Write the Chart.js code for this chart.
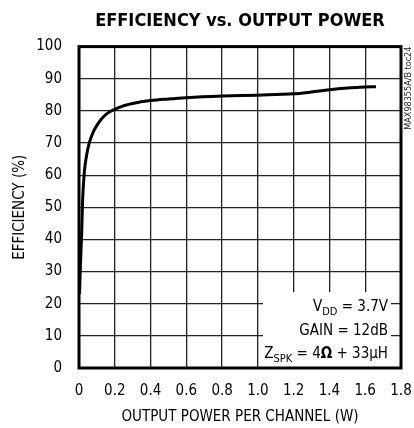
<!DOCTYPE html>
<html>
<head>
<meta charset="utf-8">
<title>Efficiency vs. Output Power</title>
<script src="https://cdn.jsdelivr.net/npm/chart.js@4/dist/chart.umd.min.js"></script>
<style>
  html, body { margin: 0; padding: 0; background: #fff; }
  #wrap { width: 414px; height: 428px; position: relative; }
</style>
</head>
<body>
<div id="wrap"><canvas id="chart1"></canvas></div>
<script>
// output power per channel (W) and efficiency (%)
var powerW = [0.003, 0.008, 0.015, 0.02, 0.03, 0.045, 0.06, 0.08, 0.1, 0.13, 0.16, 0.2, 0.25, 0.3, 0.4, 0.5, 0.6, 0.8, 1.0, 1.2, 1.3, 1.4, 1.5, 1.6, 1.66];
var efficiency = [23, 32, 42, 52, 61, 67, 70.5, 73.5, 75.5, 77.8, 79.3, 80.5, 81.6, 82.3, 83.2, 83.7, 84.1, 84.6, 84.9, 85.3, 85.9, 86.6, 87.1, 87.4, 87.5];

var xTicks = [0, 0.2, 0.4, 0.6, 0.8, 1.0, 1.2, 1.4, 1.6, 1.8];
var yTicks = [0, 10, 20, 30, 40, 50, 60, 70, 80, 90, 100];

var conditions = [
    [{ t: 'V' }, { t: 'DD', sub: true }, { t: ' = 3.7V' }],
    [{ t: 'GAIN = 12dB' }],
    [{ t: 'Z' }, { t: 'SPK', sub: true }, { t: ' = 4' }, { t: '\u03A9', bold: true }, { t: ' + 33\u00B5H' }]
];
var docCode = 'MAX98355A/B toc24';

var FONT = "'DejaVu Sans Condensed', 'Liberation Sans Narrow', 'Liberation Sans', sans-serif";

var points = [];
for (var i = 0; i < powerW.length; i++) {
    points.push({ x: powerW[i], y: efficiency[i] });
}

function segFont(s) {
    return (s.bold ? 'bold ' : '') + (s.sub ? '11px ' : '15px ') + FONT;
}

// white box with test conditions in the lower right corner
var notesPlugin = {
    id: 'notes',
    beforeDatasetsDraw: function(chart) {
        var ctx = chart.ctx;
        var a = chart.chartArea;
        ctx.save();
        ctx.fillStyle = '#fff';
        ctx.fillRect(a.left + 184, a.bottom - 76, a.right - a.left - 194, 75);

        var right = a.right - 13;
        var baselines = [a.bottom - 57, a.bottom - 33, a.bottom - 10];
        ctx.fillStyle = '#000';
        ctx.textBaseline = 'alphabetic';
        ctx.textAlign = 'left';
        for (var r = 0; r < conditions.length; r++) {
            var segs = conditions[r];
            var total = 0;
            for (var s = 0; s < segs.length; s++) {
                ctx.font = segFont(segs[s]);
                total += ctx.measureText(segs[s].t).width;
            }
            var x = right - total;
            for (var s = 0; s < segs.length; s++) {
                ctx.font = segFont(segs[s]);
                ctx.fillText(segs[s].t, x, baselines[r] + (segs[s].sub ? 4 : 0));
                x += ctx.measureText(segs[s].t).width;
            }
        }
        ctx.restore();
    },
    afterDraw: function(chart) {
        var ctx = chart.ctx;
        var a = chart.chartArea;
        ctx.save();
        ctx.strokeStyle = '#000';
        ctx.lineWidth = 3;
        ctx.strokeRect(a.left, a.top, a.right - a.left, a.bottom - a.top);

        ctx.translate(a.right + 8, a.top);
        ctx.rotate(-Math.PI / 2);
        ctx.font = '9px ' + FONT;
        ctx.fillStyle = '#222';
        ctx.textAlign = 'right';
        ctx.textBaseline = 'middle';
        ctx.fillText(docCode, 0, 0);
        ctx.restore();
    }
};

var ctx1 = document.getElementById('chart1').getContext('2d');
var chart1 = new Chart(ctx1, {
    type: 'line',
    data: {
        datasets: [{
            data: points,
            borderColor: '#000',
            borderWidth: 3,
            pointRadius: 0,
            cubicInterpolationMode: 'monotone',
            fill: false
        }]
    },
    options: {
        responsive: true,
        maintainAspectRatio: false,
        animation: false,
        layout: { padding: { left: 0, right: 13, top: 0, bottom: 0 } },
        plugins: {
            legend: { display: false },
            tooltip: { enabled: false },
            title: {
                display: true,
                text: 'EFFICIENCY vs. OUTPUT POWER',
                fullSize: false,
                color: '#000',
                font: { family: FONT, size: 18, weight: 'bold', lineHeight: 1.2 },
                padding: { top: 11, bottom: 14 }
            }
        },
        scales: {
            x: {
                type: 'linear',
                min: 0,
                max: 1.8,
                afterBuildTicks: function(scale) {
                    scale.ticks = xTicks.map(function(v) { return { value: v }; });
                },
                afterFit: function(scale) {
                    scale.height = 60;
                    scale.paddingLeft = 0;
                    scale.paddingRight = 0;
                },
                ticks: {
                    color: '#000',
                    padding: 14,
                    maxRotation: 0,
                    font: { family: FONT, size: 15 },
                    callback: function(v) { return v === 0 ? '0' : v.toFixed(1); }
                },
                grid: { color: '#222', lineWidth: 1.3, drawTicks: false },
                border: { display: false },
                title: {
                    display: true,
                    text: 'OUTPUT POWER PER CHANNEL (W)',
                    color: '#000',
                    font: { family: FONT, size: 15, lineHeight: 1.2 },
                    padding: { top: 0, bottom: 2 }
                }
            },
            y: {
                min: 0,
                max: 100,
                afterBuildTicks: function(scale) {
                    scale.ticks = yTicks.map(function(v) { return { value: v }; });
                },
                afterFit: function(scale) {
                    scale.width = 79;
                    scale.paddingTop = 0;
                    scale.paddingBottom = 0;
                },
                ticks: {
                    color: '#000',
                    padding: 17,
                    font: { family: FONT, size: 15 }
                },
                grid: { color: '#222', lineWidth: 1.3, drawTicks: false },
                border: { display: false },
                title: {
                    display: true,
                    text: 'EFFICIENCY (%)',
                    color: '#000',
                    font: { family: FONT, size: 15, lineHeight: 1.2 },
                    padding: { top: 11, bottom: 0 }
                }
            }
        }
    },
    plugins: [notesPlugin]
});
</script>
</body>
</html>
